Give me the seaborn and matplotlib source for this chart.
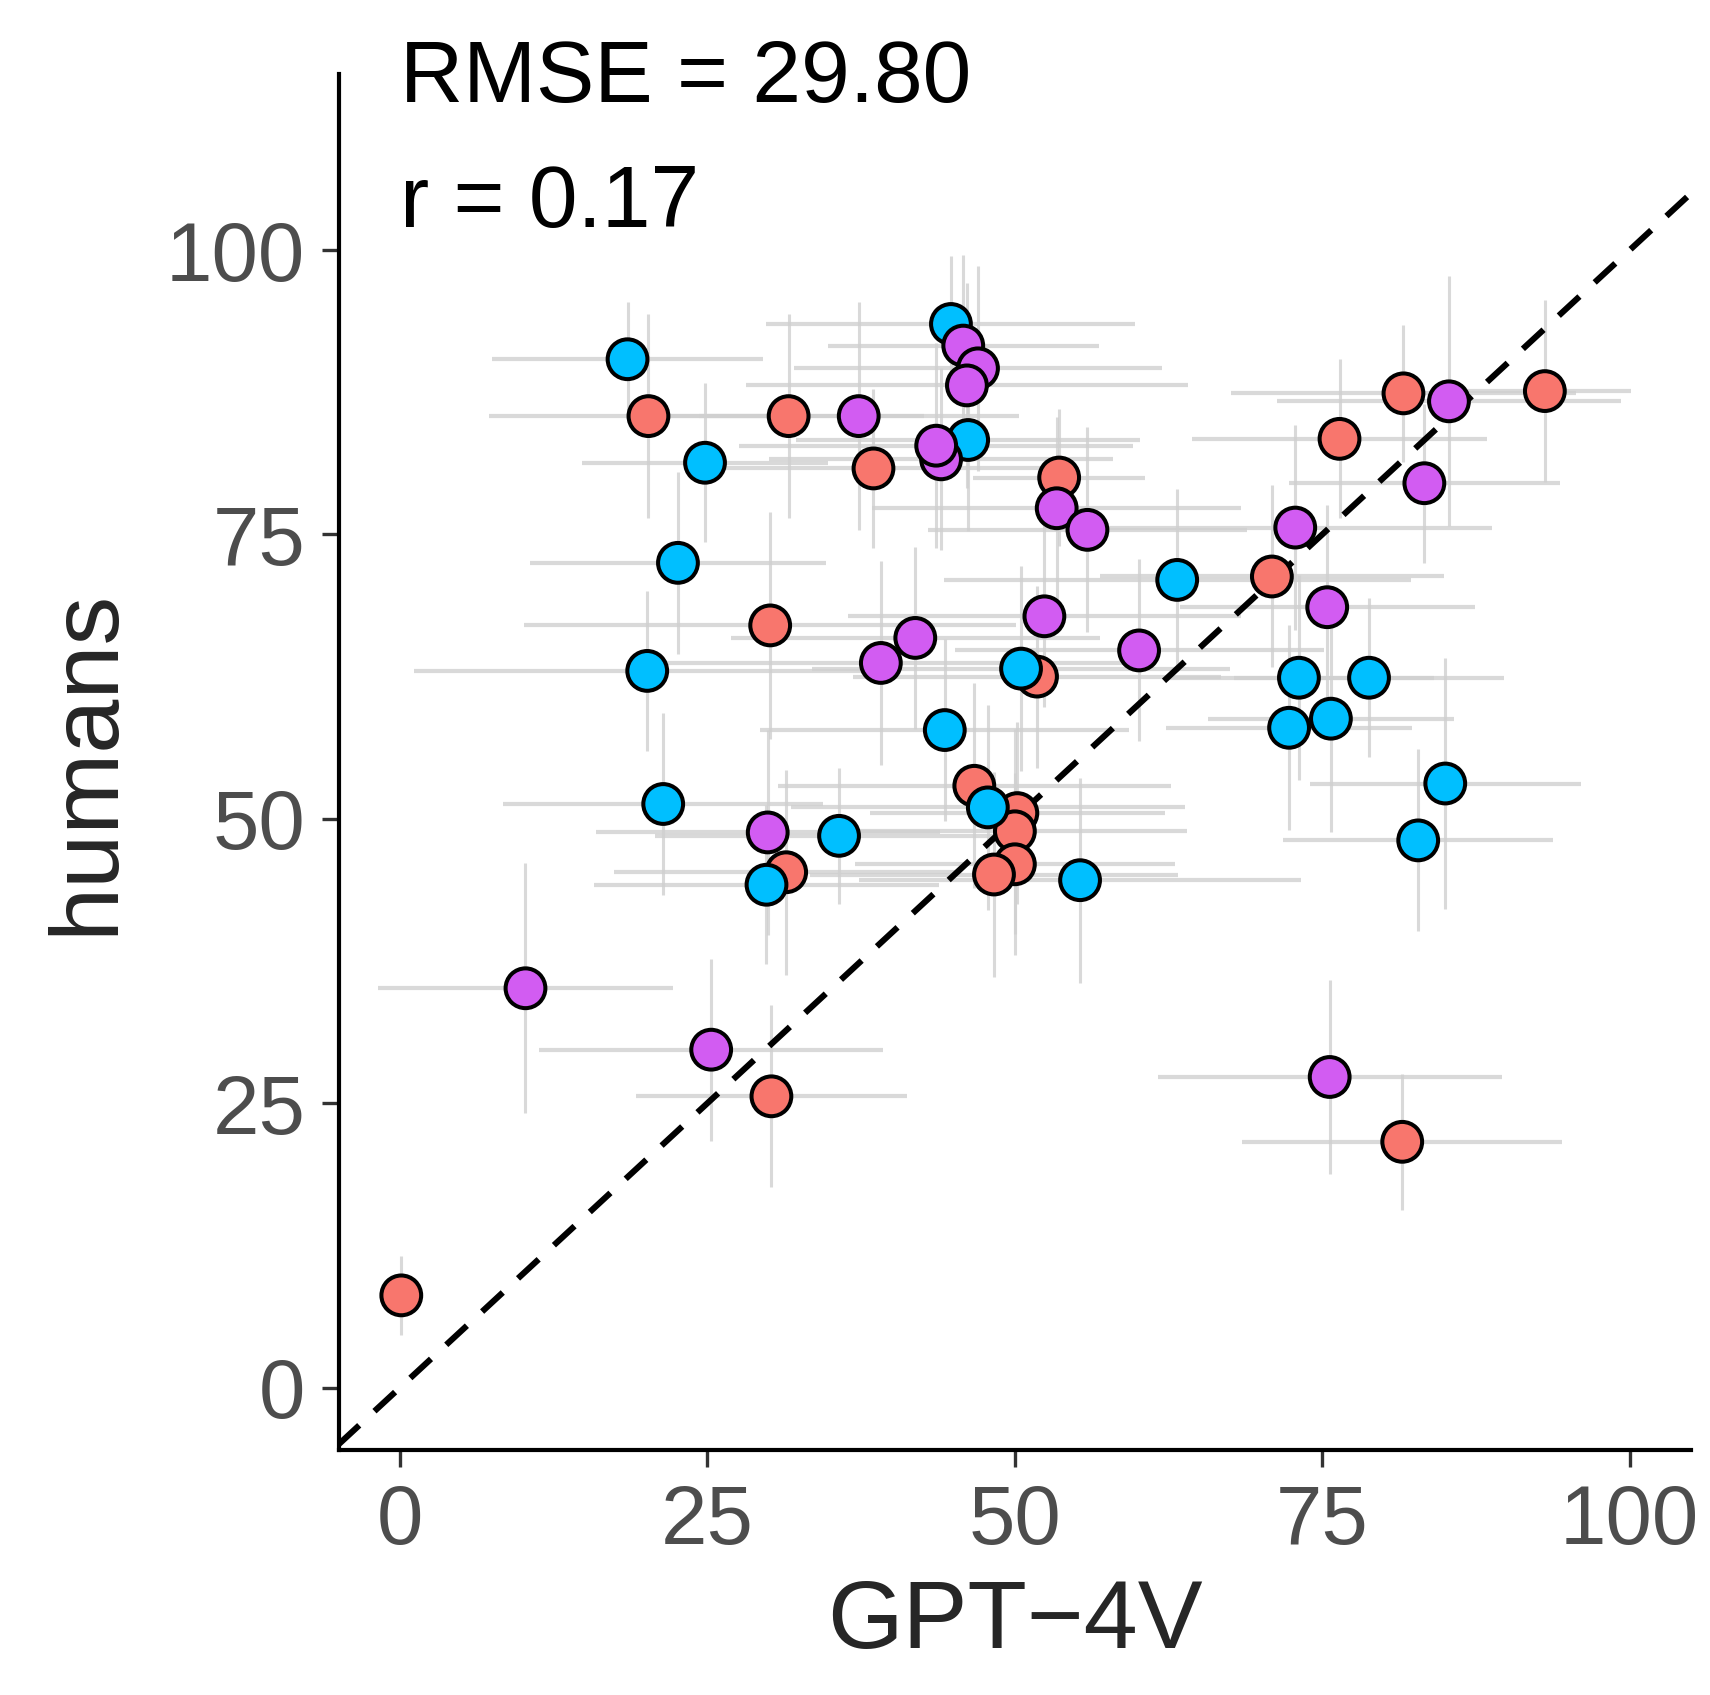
import pandas as pd
import seaborn as sns
import matplotlib.pyplot as plt

# values
red_x = [20.2, 31.6, 38.5, 53.6, 81.6, 93.1, 76.4, 70.9, 30.1, 51.8, 46.7, 50.2, 50.0, 50.0, 48.3, 31.4, 30.2, 81.5, 0.1]
red_y = [85.4, 85.4, 80.8, 80.0, 87.4, 87.6, 83.4, 71.3, 67.0, 62.5, 52.9, 50.5, 48.9, 46.0, 45.1, 45.3, 25.6, 21.6, 8.1]
red_xerr = [13, 11, 15, 7, 14, 7, 12, 14, 20, 15, 16, 12, 14, 13, 15, 14, 11, 13, 0]
red_yerr = [9, 9, 7, 6, 6, 8, 7, 8, 10, 8, 9, 8, 9, 8, 9, 9, 8, 6, 3.5]

blue_x = [18.5, 44.8, 46.2, 24.8, 22.6, 20.1, 63.2, 50.5, 44.3, 21.4, 47.8, 35.7, 29.8, 55.3, 73.1, 78.8, 72.3, 75.7, 85.0, 82.8]
blue_y = [90.4, 93.5, 83.3, 81.3, 72.5, 63.0, 71.0, 63.2, 57.8, 51.3, 51.0, 48.5, 44.2, 44.6, 62.4, 62.4, 58.0, 58.8, 53.1, 48.1]
blue_xerr = [11, 15, 14, 10, 12, 19, 19, 17, 15, 13, 16, 15, 14, 18, 11, 11, 10, 10, 11, 11]
blue_yerr = [5, 6, 8, 7, 8, 7, 8, 9, 8, 8, 9, 6, 7, 9, 9, 7, 9, 10, 11, 8]

purple_x = [37.3, 45.8, 47.0, 46.1, 44.0, 43.6, 53.4, 55.9, 72.8, 83.3, 85.3, 75.4, 52.4, 41.9, 39.1, 60.1, 29.9, 10.2, 25.3, 75.6]
purple_y = [85.4, 91.6, 89.6, 88.1, 81.6, 82.8, 77.3, 75.4, 75.6, 79.5, 86.7, 68.6, 67.8, 65.9, 63.7, 64.8, 48.8, 35.1, 29.7, 27.3]
purple_xerr = [13, 11, 15, 18, 14, 16, 15, 13, 16, 11, 14, 12, 16, 15, 20, 15, 14, 12, 14, 14]
purple_yerr = [10, 8, 9, 9, 8, 9, 8, 9, 9, 7, 11, 9, 8, 8, 9, 8, 9, 11, 8, 8.5]

rmse_text = "RMSE = 29.80"
r_text = "r = 0.17"

df = pd.DataFrame({
    "gpt": red_x + blue_x + purple_x,
    "humans": red_y + blue_y + purple_y,
    "xerr": red_xerr + blue_xerr + purple_xerr,
    "yerr": red_yerr + blue_yerr + purple_yerr,
    "group": ["a"] * len(red_x) + ["b"] * len(blue_x) + ["c"] * len(purple_x),
})

palette = {"a": "#F8766D", "b": "#00BFFF", "c": "#D25CF2"}

sns.set_style("ticks")
plt.rcParams['font.family'] = ['Liberation Sans', 'DejaVu Sans']

fig = plt.figure(figsize=(17.1, 16.95), dpi=100)
ax = fig.add_axes([0.198, 0.1445, 0.791, 0.812])

# error bars
ax.errorbar(df["gpt"], df["humans"], xerr=df["xerr"], fmt="none",
            ecolor="#D0D0D0", elinewidth=3.0, alpha=0.8, zorder=1)
ax.errorbar(df["gpt"], df["humans"], yerr=df["yerr"], fmt="none",
            ecolor="#D0D0D0", elinewidth=2.2, alpha=0.8, zorder=1)

# identity line
ax.plot([-5, 110], [-5, 110], linestyle=(0, (4.6, 3.4)), color="black", linewidth=4.4, zorder=2)

sns.scatterplot(data=df, x="gpt", y="humans", hue="group", palette=palette,
                s=820, edgecolor="black", linewidth=2.9, legend=False, ax=ax, zorder=3)

ax.text(0, 115, rmse_text, fontsize=63, va="center", ha="left", color="black")
ax.text(0, 104, r_text, fontsize=63, va="center", ha="left", color="black")

ax.set_xlim(-5, 105)
ax.set_ylim(-5.5, 115.5)
ax.set_xticks([0, 25, 50, 75, 100])
ax.set_yticks([0, 25, 50, 75, 100])
ax.tick_params(axis="both", labelsize=60, labelcolor="#4D4D4D", color="#333333",
               length=12, width=2.4, pad=12)
ax.set_xlabel("GPT\u22124V", fontsize=70, labelpad=12)
ax.set_ylabel("humans", fontsize=70, labelpad=24)

sns.despine(ax=ax)
for side in ["left", "bottom"]:
    ax.spines[side].set_linewidth(3)
    ax.spines[side].set_color("black")

fig.savefig("out.png", dpi=100)
